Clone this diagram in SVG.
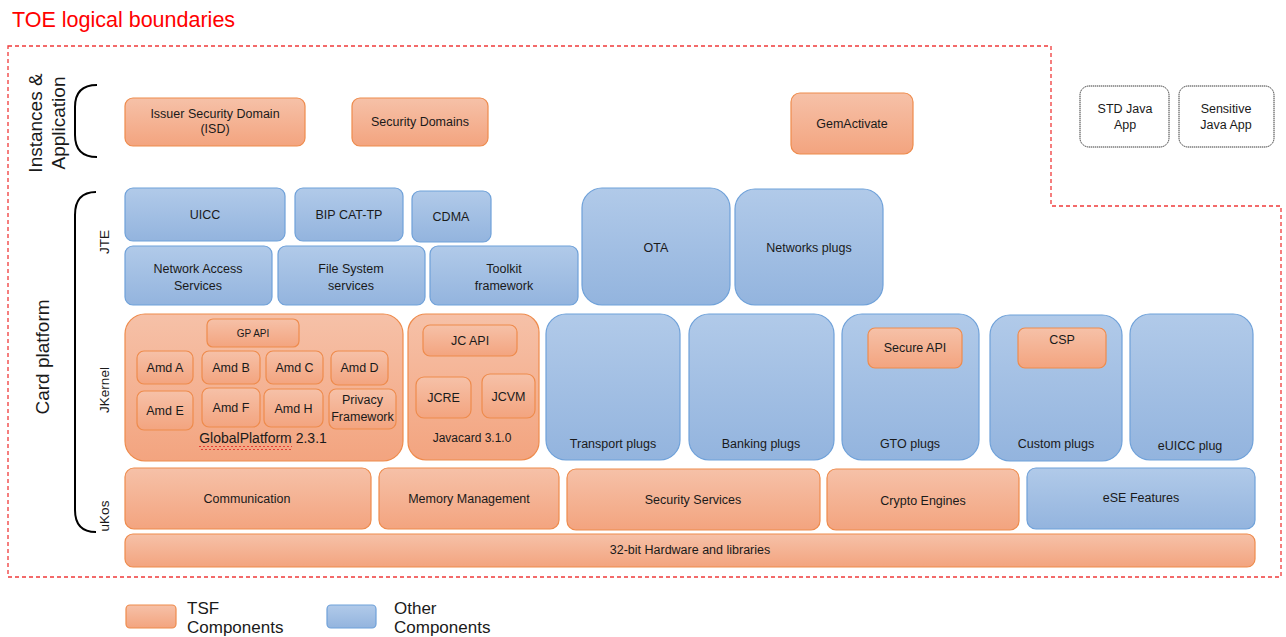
<svg xmlns="http://www.w3.org/2000/svg" width="1286" height="637" viewBox="0 0 1286 637">
<defs>
<linearGradient id="og" x1="0" y1="0" x2="0" y2="1"><stop offset="0" stop-color="#F6C1A8"/><stop offset="1" stop-color="#F3A47F"/></linearGradient>
<linearGradient id="bg" x1="0" y1="0" x2="0" y2="1"><stop offset="0" stop-color="#B1CAE9"/><stop offset="1" stop-color="#93B4DE"/></linearGradient>
<pattern id="sq" x="0" y="0" width="4" height="4" patternUnits="userSpaceOnUse"><polyline points="0,3 2,1 4,3" fill="none" stroke="#E02020" stroke-width="0.8"/></pattern>
<style>
.o{fill:url(#og);stroke:#EE8B4C;stroke-width:1.2}
.b{fill:url(#bg);stroke:#6FA1D9;stroke-width:1.2}
.w{fill:#fff;stroke:#3a3a3a;stroke-width:1;stroke-dasharray:1.4 0.6}
text{font-family:"Liberation Sans",Arial,sans-serif;fill:#1a1a1a}
.t{font-size:12.5px;text-anchor:middle}
.s{font-size:10px;text-anchor:middle}
.lab{font-size:13.5px;text-anchor:middle}
.big{font-size:19px;text-anchor:middle}
.leg{font-size:17px}
.br{fill:none;stroke:#000;stroke-width:2}
</style>
</defs>
<rect width="1286" height="637" fill="#fff"/>
<text x="12" y="27" style="font-size:21.5px;fill:#FF0000">TOE logical boundaries</text>
<path d="M8,46 H1051 V206 H1281 V577 H8 Z" fill="none" stroke="#F03A3A" stroke-width="1.3" stroke-dasharray="4 3"/>

<g id="brackets">
<path class="br" d="M97,85 C81,85 75,94 75,107 L75,135 C75,148 81,157 97,157"/>
<path class="br" d="M96,192 C82,192 75,200 75,215 L75,510 C75,525 82,532 96,532"/>
</g>
<g id="side-labels">
<text class="big" x="42" y="123" transform="rotate(-90 42 123)">Instances &amp;</text>
<text class="big" x="65" y="123" transform="rotate(-90 65 123)">Application</text>
<text class="big" x="49" y="357" transform="rotate(-90 49 357)">Card platform</text>
<text class="lab" x="109" y="242" transform="rotate(-90 109 242)">JTE</text>
<text class="lab" x="109" y="390" transform="rotate(-90 109 390)">JKernel</text>
<text class="lab" x="109" y="516" transform="rotate(-90 109 516)">uKos</text>
</g>

<g id="isd"><rect class="o" x="125" y="98" width="180" height="48" rx="8"/><text class="t" x="215" y="118">Issuer Security Domain</text><text class="t" x="215" y="133">(ISD)</text></g>
<g id="security-domains"><rect class="o" x="352" y="98" width="136" height="48" rx="8"/><text class="t" x="420" y="126">Security Domains</text></g>
<g id="gemactivate"><rect class="o" x="791" y="93" width="122" height="61" rx="9"/><text class="t" x="852" y="128">GemActivate</text></g>
<g id="std-java-app"><rect class="w" x="1080" y="86" width="89" height="61" rx="9"/><text class="t" x="1125" y="113">STD Java</text><text class="t" x="1125" y="129">App</text></g>
<g id="sensitive-java-app"><rect class="w" x="1179" y="86" width="95" height="61" rx="9"/><text class="t" x="1226" y="113">Sensitive</text><text class="t" x="1226" y="129">Java App</text></g>

<g id="uicc"><rect class="b" x="125" y="188" width="160" height="53" rx="8"/><text class="t" x="205" y="219">UICC</text></g>
<g id="bip-cat-tp"><rect class="b" x="295" y="188" width="108" height="53" rx="8"/><text class="t" x="349" y="219">BIP CAT-TP</text></g>
<g id="cdma"><rect class="b" x="412" y="191" width="79" height="51" rx="8"/><text class="t" x="451" y="221">CDMA</text></g>
<g id="network-access"><rect class="b" x="125" y="246" width="147" height="59" rx="8"/><text class="t" x="198" y="273">Network Access</text><text class="t" x="198" y="290">Services</text></g>
<g id="file-system"><rect class="b" x="278" y="246" width="147" height="59" rx="8"/><text class="t" x="351" y="273">File System</text><text class="t" x="351" y="290">services</text></g>
<g id="toolkit"><rect class="b" x="430" y="246" width="148" height="59" rx="8"/><text class="t" x="504" y="273">Toolkit</text><text class="t" x="504" y="290">framework</text></g>
<g id="ota"><rect class="b" x="582" y="188" width="148" height="117" rx="20"/><text class="t" x="656" y="252">OTA</text></g>
<g id="networks-plugs"><rect class="b" x="735" y="189" width="148" height="116" rx="20"/><text class="t" x="809" y="252">Networks plugs</text></g>

<g id="globalplatform"><rect class="o" x="125" y="314" width="278" height="147" rx="20"/><text x="263" y="443" style="font-size:14px;text-anchor:middle">GlobalPlatform 2.3.1</text><rect x="199" y="446" width="93" height="4" fill="url(#sq)"/></g>
<g id="gp-api"><rect class="o" x="207" y="319" width="92" height="28" rx="6"/><text class="s" x="253" y="337">GP API</text></g>
<g id="amd-a"><rect class="o" x="137" y="351" width="56" height="33" rx="7"/><text class="t" x="165" y="372">Amd A</text></g>
<g id="amd-b"><rect class="o" x="202" y="351" width="58" height="33" rx="7"/><text class="t" x="231" y="372">Amd B</text></g>
<g id="amd-c"><rect class="o" x="266" y="351" width="57" height="33" rx="7"/><text class="t" x="294.5" y="372">Amd C</text></g>
<g id="amd-d"><rect class="o" x="331" y="351" width="57" height="34" rx="7"/><text class="t" x="359.5" y="372">Amd D</text></g>
<g id="amd-e"><rect class="o" x="137" y="391" width="56" height="39" rx="7"/><text class="t" x="165" y="415">Amd E</text></g>
<g id="amd-f"><rect class="o" x="202" y="388" width="58" height="39" rx="7"/><text class="t" x="231" y="412">Amd F</text></g>
<g id="amd-h"><rect class="o" x="264" y="389" width="59" height="38" rx="7"/><text class="t" x="293.5" y="413">Amd H</text></g>
<g id="privacy-framework"><rect class="o" x="329" y="389" width="67" height="40" rx="7"/><text class="t" x="362.5" y="404">Privacy</text><text class="t" x="362.5" y="421">Framework</text></g>

<g id="javacard"><rect class="o" x="408" y="314" width="131" height="146" rx="18"/><text x="472" y="442" style="font-size:12px;text-anchor:middle">Javacard 3.1.0</text></g>
<g id="jc-api"><rect class="o" x="423" y="325" width="94" height="31" rx="7"/><text class="t" x="470" y="345">JC API</text></g>
<g id="jcre"><rect class="o" x="416" y="377" width="55" height="41" rx="8"/><text class="t" x="443.5" y="402">JCRE</text></g>
<g id="jcvm"><rect class="o" x="482" y="374" width="53" height="44" rx="8"/><text class="t" x="508.5" y="401">JCVM</text></g>

<g id="transport-plugs"><rect class="b" x="546" y="314" width="134" height="146" rx="20"/><text class="t" x="613" y="448">Transport plugs</text></g>
<g id="banking-plugs"><rect class="b" x="689" y="314" width="145" height="146" rx="20"/><text class="t" x="761" y="448">Banking plugs</text></g>
<g id="gto-plugs"><rect class="b" x="842" y="314" width="137" height="146" rx="20"/><text class="t" x="910" y="448">GTO plugs</text></g>
<g id="secure-api"><rect class="o" x="868" y="328" width="94" height="40" rx="7"/><text class="t" x="915" y="352">Secure API</text></g>
<g id="custom-plugs"><rect class="b" x="990" y="315" width="132" height="146" rx="20"/><text class="t" x="1056" y="448">Custom plugs</text></g>
<g id="csp"><rect class="o" x="1018" y="328" width="88" height="40" rx="7"/><text class="t" x="1062" y="344">CSP</text></g>
<g id="euicc-plug"><rect class="b" x="1130" y="314" width="123" height="146" rx="20"/><text class="t" x="1190" y="450">eUICC plug</text></g>

<g id="communication"><rect class="o" x="125" y="468" width="246" height="61" rx="9"/><text class="t" x="247" y="503">Communication</text></g>
<g id="memory-management"><rect class="o" x="379" y="468" width="180" height="61" rx="9"/><text class="t" x="469" y="503">Memory Management</text></g>
<g id="security-services"><rect class="o" x="567" y="469" width="253" height="61" rx="9"/><text class="t" x="693" y="504">Security Services</text></g>
<g id="crypto-engines"><rect class="o" x="827" y="469" width="192" height="61" rx="9"/><text class="t" x="923" y="505">Crypto Engines</text></g>
<g id="ese-features"><rect class="b" x="1027" y="468" width="228" height="61" rx="9"/><text class="t" x="1141" y="502">eSE Features</text></g>
<g id="hardware"><rect class="o" x="125" y="534" width="1130" height="33" rx="8"/><text class="t" x="690" y="554">32-bit Hardware and libraries</text></g>

<g id="legend">
<rect class="o" x="126" y="605" width="50" height="23" rx="4"/>
<text class="leg" x="187" y="614">TSF</text>
<text class="leg" x="187" y="633">Components</text>
<rect class="b" x="327" y="605" width="49" height="23" rx="4"/>
<text class="leg" x="394" y="614">Other</text>
<text class="leg" x="394" y="633">Components</text>
</g>
</svg>
